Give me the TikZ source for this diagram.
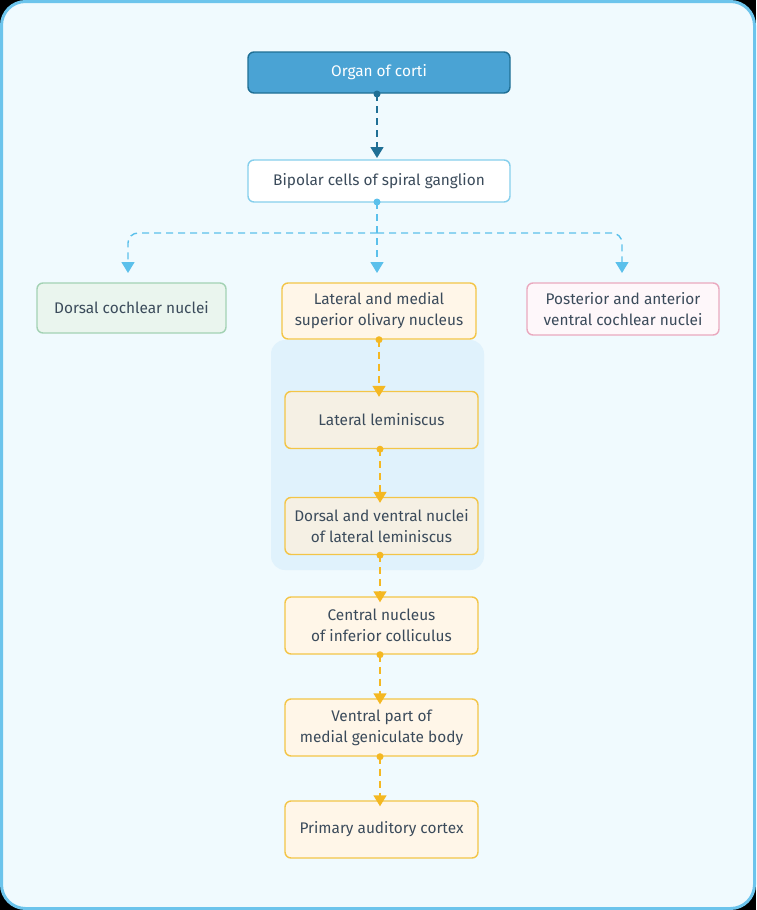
\documentclass[tikz,border=0pt]{standalone}
\usepackage{fontspec}
\setmainfont{Fira Sans}
\usetikzlibrary{arrows.meta}
\definecolor{frameF}{HTML}{F0FAFE}
\definecolor{frameD}{HTML}{6CC4EC}
\definecolor{grpF}{HTML}{E0F2FC}
\definecolor{txt}{HTML}{3B4B5B}
\definecolor{orgF}{HTML}{4AA3D4}
\definecolor{orgD}{HTML}{1F6F95}
\definecolor{lblue}{HTML}{5BC0EB}
\definecolor{bipD}{HTML}{86CFEC}
\definecolor{grnF}{HTML}{EAF5EE}
\definecolor{grnD}{HTML}{A3D2B4}
\definecolor{pnkF}{HTML}{FEF7FA}
\definecolor{pnkD}{HTML}{EAA9BF}
\definecolor{yelF}{HTML}{FFF6E8}
\definecolor{yelG}{HTML}{F5F0E4}
\definecolor{yelD}{HTML}{F3C547}
\definecolor{yelA}{HTML}{F4B822}
\begin{document}
\begin{tikzpicture}[x=1pt,y=-1pt,
  box/.style={draw, rounded corners=6pt, line width=1.4pt, align=center,
    text=txt, font=\fontsize{15.4}{21}\selectfont, inner sep=0pt},
  ybox/.style={box, fill=yelF, draw=yelD, minimum width=193pt, minimum height=57pt},
  link/.style={dashed, dash pattern=on 7pt off 5pt, line width=1.4pt, -{Triangle[width=13pt,length=11pt]}},
]
\useasboundingbox (0,0) rectangle (756,910);
\fill[black] (0,0) rectangle (756,910);
\draw[fill=frameF, draw=frameD, line width=3pt, rounded corners=24pt] (1.5,1.5) rectangle (754.5,908.5);
\fill[grpF, rounded corners=14pt] (271,340) rectangle (484,570);

\node[box, fill=orgF, draw=orgD, text=white, minimum width=262pt, minimum height=41pt] (org) at (379,72.5) {Organ of corti};
\node[box, fill=white, draw=bipD, minimum width=262pt, minimum height=42pt] (bip) at (379,181) {Bipolar cells of spiral ganglion};
\node[box, fill=grnF, draw=grnD, minimum width=189pt, minimum height=50pt] (dcn) at (131.5,308) {Dorsal cochlear nuclei};
\node[ybox, minimum width=194pt, minimum height=56pt] (son) at (379,311) {Lateral and medial\\superior olivary nucleus};
\node[box, fill=pnkF, draw=pnkD, minimum width=192pt, minimum height=52pt] (vcn) at (623,309) {Posterior and anterior\\ventral cochlear nuclei};
\node[ybox, fill=yelG] (ll) at (381.5,420) {Lateral leminiscus};
\node[ybox, fill=yelG] (nll) at (381.5,526) {Dorsal and ventral nuclei\\of lateral leminiscus};
\node[ybox] (ic) at (381.5,625.5) {Central nucleus\\of inferior colliculus};
\node[ybox] (mgb) at (381.5,727.5) {Ventral part of\\medial geniculate body};
\node[ybox] (pac) at (381.5,829.5) {Primary auditory cortex};

% organ -> bipolar
\draw[link, orgD] (377,94) -- (377,158);
\fill[orgD] (377,94) circle (3.5pt);

% bipolar -> three
\coordinate (j) at (377,233);
\coordinate (tl) at (128,273);
\coordinate (tc) at (377,273);
\coordinate (tr) at (622,273);
\draw[link, lblue] (377,202) -- (tc);
\draw[link, lblue, rounded corners=10pt] (j) -| (tl);
\draw[link, lblue, rounded corners=10pt] (j) -| (tr);
\fill[lblue] (377,202) circle (3.5pt);

% yellow chain
\foreach \a/\b/\x in {son/ll/379, ll/nll/380, nll/ic/380, ic/mgb/380, mgb/pac/380}{
  \draw[link, yelA] (\x,0 |- \a.south) -- ([yshift=-6pt]\x,0 |- \b.north);
  \fill[yelA] (\x,0 |- \a.south) circle (3.5pt);
}
\end{tikzpicture}
\end{document}
